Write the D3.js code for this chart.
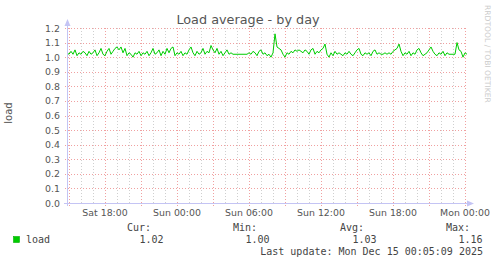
<!DOCTYPE html>
<html>
<head>
<meta charset="utf-8">
<script src="https://cdn.jsdelivr.net/npm/d3@7"></script>
<style>
  html, body { margin: 0; padding: 0; background: #fff; }
  svg { display: block; }
</style>
</head>
<body>
<div id="chart"></div>
<script>
const [WIDTH, HEIGHT] = [497, 264];

// load average samples, one every 10 minutes from Sat 14:50
const loadValues = [
    1.03, 1.02, 1.04, 1.02, 1.05, 1.01, 1.03, 1.02, 1.04, 1.03,
    1.01, 1.04, 1.02, 1.03, 1.05, 1.01, 1.03, 1.06, 1.02, 1.01,
    1.04, 1.06, 1.02, 1.04, 1.06, 1.07, 1.05, 1.07, 1.03, 1.06,
    1.01, 1.03, 1.02, 1.00, 1.03, 1.02, 1.04, 1.01, 1.03, 1.02,
    1.04, 1.01, 1.03, 1.06, 1.02, 1.03, 1.05, 1.01, 1.04, 1.02,
    1.06, 1.03, 1.06, 1.07, 1.01, 1.03, 1.02, 1.04, 1.01, 1.03,
    1.02, 1.05, 1.07, 1.03, 1.01, 1.04, 1.02, 1.03, 1.06, 1.02,
    1.04, 1.03, 1.08, 1.05, 1.03, 1.06, 1.02, 1.04, 1.01, 1.03,
    1.05, 1.02, 1.03, 1.02, 1.02, 1.02, 1.02, 1.02, 1.02, 1.02,
    1.02, 1.03, 1.02, 1.04, 1.03, 1.01, 1.04, 1.05, 1.02, 1.03,
    1.01, 1.02, 1.00, 1.03, 1.16, 1.07, 1.06, 1.05, 1.02, 1.00,
    1.03, 1.02, 1.04, 1.03, 1.05, 1.04, 1.05, 1.04, 1.03, 1.05,
    1.04, 1.02, 1.05, 1.06, 1.02, 1.04, 1.03, 1.05, 1.06, 1.09,
    1.02, 1.00, 1.03, 1.01, 1.04, 1.02, 1.03, 1.02, 1.01, 1.03,
    1.02, 1.04, 1.02, 1.01, 1.03, 1.05, 1.06, 1.02, 1.01, 1.03,
    1.02, 1.03, 1.01, 1.04, 1.05, 1.02, 1.03, 1.02, 1.02, 1.03,
    1.02, 1.03, 1.02, 1.04, 1.05, 1.06, 1.09, 1.04, 1.01, 1.03,
    1.02, 1.04, 1.01, 1.03, 1.02, 1.05, 1.06, 1.03, 1.01, 1.02,
    1.03, 1.05, 1.07, 1.04, 1.02, 1.01, 1.03, 1.02, 1.04, 1.01,
    1.03, 1.02, 1.02, 1.02, 1.02, 1.10, 1.05, 1.04, 1.00, 1.03,
    1.02,
];

const timeStart = new Date(2025, 11, 13, 14, 50);
const timeEnd = new Date(2025, 11, 15, 0, 10);
const stepMinutes = 10;

const yTicks = [0.0, 0.1, 0.2, 0.3, 0.4, 0.5, 0.6, 0.7, 0.8, 0.9, 1.0, 1.1, 1.2];

const xLabelTimes = [
    new Date(2025, 11, 13, 18), new Date(2025, 11, 14, 0), new Date(2025, 11, 14, 6),
    new Date(2025, 11, 14, 12), new Date(2025, 11, 14, 18), new Date(2025, 11, 15, 0),
];
const xLabels = ['Sat 18:00', 'Sun 00:00', 'Sun 06:00', 'Sun 12:00', 'Sun 18:00', 'Mon 00:00'];

const legendHeaders = ['Cur:', 'Min:', 'Avg:', 'Max:'];
const legendValues = ['1.02', '1.00', '1.03', '1.16'];

const PLOT = { left: 67, right: 467, top: 28, bottom: 203 };

const COLORS = {
    line: '#00cc00',
    majorGrid: '#f0a0a0',
    minorGrid: '#cfcfcf',
    axis: '#c4c4f4',
    text: '#555',
    legendText: '#444',
    credit: '#cccccc',
};

const SANS = 'DejaVu Sans, sans-serif';
const MONO = 'DejaVu Sans Mono, monospace';

const svg = d3.select('#chart').append('svg')
    .attr('width', WIDTH)
    .attr('height', HEIGHT)
    .attr('viewBox', `0 0 ${WIDTH} ${HEIGHT}`)

const x = d3.scaleTime()
    .domain([timeStart, timeEnd])
    .range([PLOT.left, PLOT.right])

const y = d3.scaleLinear()
    .domain([0, 1.2])
    .range([PLOT.bottom, PLOT.top])

const hourTicks = d3.timeHour.every(1).range(timeStart, timeEnd);
const majorTicks = hourTicks.filter((d) => d.getHours() % 3 === 0);
const minorTicks = hourTicks.filter((d) => d.getHours() % 3 !== 0);

// minor vertical grid
svg.append('g')
    .selectAll('line')
    .data(minorTicks)
    .join('line')
    .attr('x1', (d) => Math.round(x(d)) + 0.5)
    .attr('x2', (d) => Math.round(x(d)) + 0.5)
    .attr('y1', PLOT.top)
    .attr('y2', PLOT.bottom + 2)
    .attr('stroke', COLORS.minorGrid)
    .attr('stroke-dasharray', '1,2')

// major vertical grid
svg.append('g')
    .selectAll('line')
    .data(majorTicks)
    .join('line')
    .attr('x1', (d) => Math.round(x(d)) + 0.5)
    .attr('x2', (d) => Math.round(x(d)) + 0.5)
    .attr('y1', PLOT.top)
    .attr('y2', PLOT.bottom + 3)
    .attr('stroke', COLORS.majorGrid)
    .attr('stroke-dasharray', '1,2')

// horizontal grid
svg.append('g')
    .selectAll('line')
    .data(yTicks.slice(1))
    .join('line')
    .attr('x1', PLOT.left - 2)
    .attr('x2', PLOT.right)
    .attr('y1', (d) => Math.round(y(d)) + 0.5)
    .attr('y2', (d) => Math.round(y(d)) + 0.5)
    .attr('stroke', COLORS.majorGrid)
    .attr('stroke-dasharray', '1,2')

// y tick labels
svg.append('g')
    .attr('font-family', SANS)
    .attr('font-size', 9.4)
    .attr('fill', COLORS.text)
    .attr('text-anchor', 'end')
    .selectAll('text')
    .data(yTicks)
    .join('text')
    .attr('x', 60)
    .attr('y', (d) => y(d) + 3.5)
    .text((d) => d.toFixed(1))

// x tick labels
svg.append('g')
    .attr('font-family', SANS)
    .attr('font-size', 9.4)
    .attr('fill', COLORS.text)
    .attr('text-anchor', 'middle')
    .selectAll('text')
    .data(xLabelTimes)
    .join('text')
    .attr('x', (d) => x(d))
    .attr('y', 216)
    .text((d, i) => xLabels[i])

// data line
const line = d3.line()
    .x((d, i) => x(d3.timeMinute.offset(timeStart, i * stepMinutes)))
    .y((d) => y(d))

svg.append('path')
    .datum(loadValues)
    .attr('d', line)
    .attr('fill', 'none')
    .attr('stroke', COLORS.line)
    .attr('stroke-width', 1)

// axes with arrows
svg.append('line')
    .attr('x1', PLOT.left + 0.5).attr('x2', PLOT.left + 0.5)
    .attr('y1', PLOT.bottom + 3).attr('y2', 24)
    .attr('stroke', COLORS.axis)
svg.append('line')
    .attr('x1', PLOT.left - 3).attr('x2', PLOT.right + 2)
    .attr('y1', PLOT.bottom + 0.5).attr('y2', PLOT.bottom + 0.5)
    .attr('stroke', COLORS.axis)
svg.append('path')
    .attr('d', `M${PLOT.left + 0.5},19 L${PLOT.left - 2.5},26 L${PLOT.left + 3.5},26 Z`)
    .attr('fill', COLORS.axis)
svg.append('path')
    .attr('d', `M${PLOT.right + 7},${PLOT.bottom + 0.5} L${PLOT.right},${PLOT.bottom - 2.5} L${PLOT.right},${PLOT.bottom + 3.5} Z`)
    .attr('fill', COLORS.axis)

// title
svg.append('text')
    .attr('x', 248)
    .attr('y', 24)
    .attr('text-anchor', 'middle')
    .attr('font-family', SANS)
    .attr('font-size', 12.8)
    .attr('fill', COLORS.text)
    .text('Load average - by day')

// y axis title
svg.append('text')
    .attr('transform', 'translate(12, 113) rotate(-90)')
    .attr('text-anchor', 'middle')
    .attr('font-family', SANS)
    .attr('font-size', 10)
    .attr('fill', COLORS.text)
    .text('load')

// rrdtool credit
svg.append('text')
    .attr('transform', 'translate(485, 5) rotate(90)')
    .attr('font-family', SANS)
    .attr('font-size', 7.6)
    .attr('fill', COLORS.credit)
    .text('RRDTOOL / TOBI OETIKER')

// legend
const legendRight = [151, 257, 364, 470];
const legend = svg.append('g')
    .attr('font-family', MONO)
    .attr('font-size', 10)
    .attr('fill', COLORS.legendText)

legend.selectAll('.hdr')
    .data(legendHeaders)
    .join('text')
    .attr('class', 'hdr')
    .attr('text-anchor', 'end')
    .attr('x', (d, i) => legendRight[i])
    .attr('y', 231)
    .text((d) => d)

legend.selectAll('.val')
    .data(legendValues)
    .join('text')
    .attr('class', 'val')
    .attr('text-anchor', 'end')
    .attr('x', (d, i) => legendRight[i] + 12.5)
    .attr('y', 243)
    .text((d) => d)

legend.append('rect')
    .attr('x', 13.5).attr('y', 236.5)
    .attr('width', 6).attr('height', 6)
    .attr('fill', COLORS.line)
    .attr('stroke', '#00b000')
    .attr('stroke-width', 0.6)

legend.append('text')
    .attr('x', 26)
    .attr('y', 243)
    .text('load')

legend.append('text')
    .attr('x', 483)
    .attr('y', 255)
    .attr('text-anchor', 'end')
    .text('Last update: Mon Dec 15 00:05:09 2025')
</script>
</body>
</html>
